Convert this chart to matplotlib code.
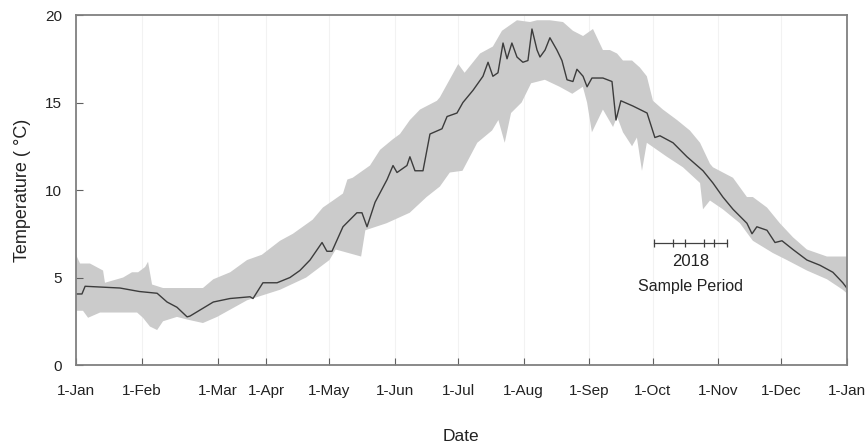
import matplotlib
matplotlib.use('Agg')
import matplotlib.pyplot as plt
import numpy as np

plt.rcParams['font.family'] = ['Liberation Sans', 'DejaVu Sans']

# day-of-year, mean temperature line
line_day = [0, 2.8, 4.3, 20.8, 30, 38.4, 43.1, 47.8, 52.6, 54, 65, 72.9, 82.4, 83.8, 88.5,
            95.2, 101.3, 106, 110.8, 116.5, 118.8, 121.2, 126.4, 133, 135.4, 137.8, 141.6,
            147.3, 150.1, 152, 156.7, 158.1, 160.5, 164.3, 167.6, 173.3, 175.7, 180.4,
            183.2, 188, 192.7, 195.1, 197.4, 199.8, 202.2, 204.1, 206.4, 208.8, 211.6,
            214, 215.9, 218.3, 219.7, 222.1, 224.4, 227.7, 230.1, 232.5, 235.3, 237.2,
            240.1, 242, 244.3, 249.5, 253.8, 255.7, 258, 263.7, 270.4, 274.1, 276.5,
            282.7, 289.3, 296.9, 301.6, 306.3, 311.1, 317.7, 320.1, 322.4, 327.2, 331,
            334.3, 339.5, 346.1, 352.3, 358.4, 363.1, 365]
line_temp = [4.06, 4.06, 4.5, 4.4, 4.2, 4.1, 3.6, 3.3, 2.75, 2.8, 3.6, 3.8, 3.9, 3.8, 4.7,
             4.7, 5.0, 5.4, 6.0, 7.0, 6.5, 6.5, 7.9, 8.7, 8.7, 7.9, 9.3,
             10.6, 11.4, 11.0, 11.4, 11.9, 11.1, 11.1, 13.2, 13.5, 14.2, 14.4,
             15.0, 15.7, 16.5, 17.3, 16.5, 16.7, 18.4, 17.5, 18.4, 17.6, 17.3,
             17.4, 19.2, 18.0, 17.6, 18.0, 18.7, 18.0, 17.4, 16.3, 16.2, 16.9,
             16.5, 15.9, 16.4, 16.4, 16.2, 14.0, 15.1, 14.8, 14.4, 13.0, 13.1,
             12.7, 11.9, 11.1, 10.4, 9.6, 8.9, 8.1, 7.5, 7.9, 7.7, 7.0,
             7.1, 6.6, 6.0, 5.7, 5.3, 4.7, 4.4]

# upper edge of the range band
hi_day = [0, 1.9, 6.6, 12.8, 13.7, 22.3, 26.5, 29.4, 32.7, 34.1, 36, 41.2, 60.1, 65,
          73, 81, 88, 96.6, 102.7, 112, 116.9, 121.7, 126.4, 128.5, 131, 134.5,
          139.2, 144, 150, 153.4, 158.1, 162.9, 170.9, 172.3, 181, 184, 191.3, 197.4, 201.7,
          208.8, 215, 218.3, 224.4, 230.6, 235.3, 240.1, 244.8, 249.5, 252.8, 256.2,
          259, 263.3, 267, 270.3, 273.2, 277.9, 284.6, 290.7, 295.5, 300.2, 301.6,
          311.1, 317.7, 320.5, 327.2, 333.3, 339.5, 346.1, 355.6, 365]
hi_temp = [6.3, 5.8, 5.8, 5.4, 4.7, 5.0, 5.3, 5.3, 5.6, 5.9, 4.6, 4.4, 4.4, 4.9,
           5.3, 6.0, 6.3, 7.1, 7.5, 8.3, 9.0, 9.4, 9.8, 10.6, 10.7, 11.0,
           11.4, 12.3, 12.9, 13.2, 14.0, 14.6, 15.1, 15.3, 17.2, 16.7, 17.8, 18.2, 19.1,
           19.7, 19.6, 19.7, 19.7, 19.6, 19.1, 18.8, 19.2, 18.0, 18.0, 17.8,
           17.4, 17.4, 17.0, 16.5, 15.1, 14.6, 14.0, 13.4, 12.7, 11.5, 11.3,
           10.7, 9.6, 9.6, 9.0, 8.1, 7.3, 6.6, 6.2, 6.2]

# lower edge of the range band
lo_day = [0, 3.3, 5.7, 11.4, 28.9, 31.7, 35, 38.4, 41.2, 47.8, 52.6, 60.1, 66.8, 81,
          96.6, 109, 120, 123, 135, 137, 147, 158, 166, 172.3, 177, 183, 190, 197, 200,
          203, 206, 211, 215.5, 222, 229, 235, 240, 242, 244.3, 249.5, 254.3, 256.2,
          259, 263.3, 265.6, 268, 270.3, 279.8, 287.4, 295.5, 296.9, 300.2, 306.3,
          314.4, 320.5, 330, 336.6, 346.1, 355.6, 363.1, 365]
lo_temp = [3.1, 3.1, 2.7, 3.0, 3.0, 2.7, 2.2, 2.0, 2.5, 2.75, 2.6, 2.4, 2.75, 3.7,
           4.3, 5.0, 6.0, 6.6, 6.2, 7.7, 8.1, 8.7, 9.6, 10.2, 11.0, 11.1, 12.7, 13.4, 14.0,
           12.7, 14.4, 15.0, 16.1, 16.3, 15.9, 15.5, 15.9, 15.0, 13.3, 14.6, 13.6, 14.2,
           13.3, 12.5, 13.0, 11.1, 12.7, 11.9, 11.3, 10.4, 8.9, 9.4, 8.9,
           8.1, 7.1, 6.4, 6.0, 5.4, 4.9, 4.3, 4.1]

# x ticks (day of year) and labels
tick_day = [0, 31, 67, 90, 120, 151, 181, 212, 243, 273, 304, 334, 365]
tick_lab = ['1-Jan', '1-Feb', '1-Mar', '1-Apr', '1-May', '1-Jun', '1-Jul',
            '1-Aug', '1-Sep', '1-Oct', '1-Nov', '1-Dec', '1-Jan']

# sampling dates in 2018
sample_day = [273.7, 282.7, 288.4, 297.3, 302, 308.2]
sample_level = 7.0

fig = plt.figure(figsize=(8.68, 4.47), dpi=100)
ax = fig.add_axes([0.0876, 0.1834, 0.888, 0.783])

for d in tick_day:
    ax.axvline(d, color='#f2f2f2', lw=0.8, zorder=0)

band_x = np.concatenate([hi_day, lo_day[::-1]])
band_y = np.concatenate([hi_temp, lo_temp[::-1]])
ax.fill(band_x, band_y, color='#cbcbcb', lw=0, zorder=1)
ax.plot(line_day, line_temp, color='#3c3c3c', lw=1.0, zorder=2)

ax.plot([sample_day[0], sample_day[-1]], [sample_level] * 2, color='#404040', lw=0.9)
ax.plot(sample_day, [sample_level] * len(sample_day), ls='', marker='|',
        ms=6, mew=0.9, color='#404040')
mid = (sample_day[0] + sample_day[-1]) / 2
ax.text(mid, 5.9, '2018', ha='center', va='center', fontsize=12, color='#222222')
ax.text(mid, 4.5, 'Sample Period', ha='center', va='center', fontsize=11.5, color='#222222')

ax.set_xlim(0, 365)
ax.set_ylim(0, 20)
ax.set_xticks(tick_day)
ax.set_xticklabels(tick_lab)
ax.set_yticks([0, 5, 10, 15, 20])
ax.tick_params(direction='in', length=5, width=0.8, color='#606060',
               labelsize=11, labelcolor='#222222')
ax.tick_params(axis='x', pad=14)
ax.tick_params(axis='y', pad=10)
for s in ax.spines.values():
    s.set_color('#808080')
    s.set_linewidth(1.3)

ax.set_xlabel('Date', fontsize=12.5, labelpad=22, color='#222222')
ax.set_ylabel('Temperature ( \u00b0C)', fontsize=13, labelpad=10, color='#222222')

fig.savefig('out.png', dpi=100, facecolor='w')
plt.close(fig)
